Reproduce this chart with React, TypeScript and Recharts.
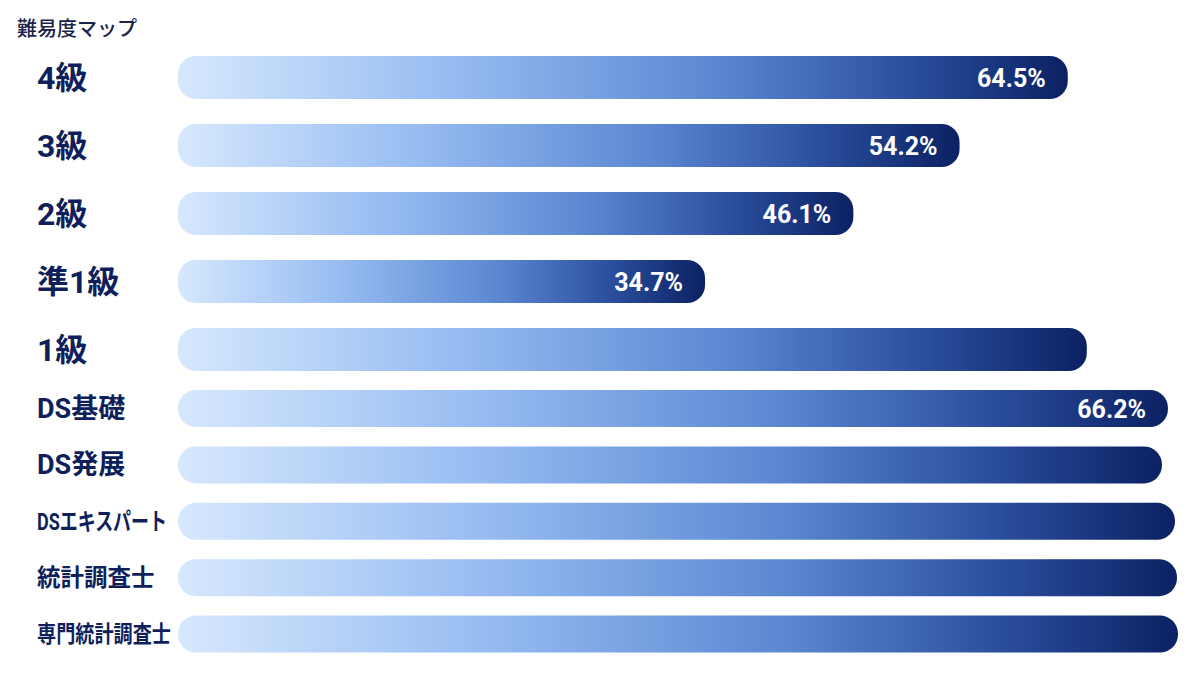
import React from 'react';
import { BarChart, Bar, XAxis, YAxis, LabelList } from 'recharts';

// exam levels, upper block (larger rows) and lower block
const upperLevels = ['4級', '3級', '2級', '準1級', '1級'];
const upperBars = [88.8, 78.0, 67.4, 52.6, 90.7];
const upperRates = ['64.5%', '54.2%', '46.1%', '34.7%', ''];

const lowerLevels = ['DS基礎', 'DS発展', 'DSエキスパート', '統計調査士', '専門統計調査士'];
const lowerBars = [98.8, 98.2, 99.5, 99.7, 99.8];
const lowerRates = ['66.2%', '', '', '', ''];

const NAVY = '#0f1f5c';
const FONT = 'Roboto, "Noto Sans CJK JP", "Noto Sans", sans-serif';

// label sizing, long names are squeezed to fit the left column
const labelSize: Record<string, number> = {
  'DS基礎': 27,
  'DS発展': 27,
  'DSエキスパート': 24,
  '統計調査士': 23.5,
  '専門統計調査士': 23,
};
const labelFit: Record<string, number> = {
  'DSエキスパート': 130,
  '専門統計調査士': 134,
};

const upperData = upperLevels.map((name, i) => ({ name, value: upperBars[i], rate: upperRates[i] }));
const lowerData = lowerLevels.map((name, i) => ({ name, value: lowerBars[i], rate: lowerRates[i] }));

const GradientDefs = ({ id }: { id: string }) => (
  <defs>
    <linearGradient id={id} x1="0" y1="0" x2="1" y2="0">
      <stop offset="0%" stopColor="#d6e8fd" />
      <stop offset="30%" stopColor="#98bdf2" />
      <stop offset="60%" stopColor="#5d89d3" />
      <stop offset="82%" stopColor="#2b4f9e" />
      <stop offset="100%" stopColor="#0b2163" />
    </linearGradient>
  </defs>
);

const makeTick = (fontSize: number) => (props: any) => {
  const { y, payload } = props;
  const label: string = payload.value;
  const fit = labelFit[label];
  return (
    <text
      x={37}
      y={y}
      dy="0.36em"
      fill={NAVY}
      fontFamily={FONT}
      fontWeight={700}
      fontSize={labelSize[label] || fontSize}
      textAnchor="start"
      {...(fit ? { textLength: fit, lengthAdjust: 'spacingAndGlyphs' } : {})}
    >
      {label}
    </text>
  );
};

const renderRate = (props: any) => {
  const { x, y, width, height, value } = props;
  if (!value) return null;
  return (
    <text
      x={x + width - 22}
      y={y + height / 2}
      dy="0.36em"
      textAnchor="end"
      fill="#ffffff"
      fontFamily='Roboto, "Noto Sans", sans-serif'
      fontWeight={700}
      fontSize={25}
    >
      {value}
    </text>
  );
};

const DifficultyBars = ({ data, height, barSize, fontSize, gid }: any) => (
  <BarChart
    width={1200}
    height={height}
    data={data}
    layout="vertical"
    margin={{ top: 0, right: 20, bottom: 0, left: 0 }}
    barCategoryGap={0}
  >
    <GradientDefs id={gid} />
    <XAxis type="number" domain={[0, 100]} hide />
    <YAxis
      type="category"
      dataKey="name"
      width={178}
      axisLine={false}
      tickLine={false}
      interval={0}
      tick={makeTick(fontSize)}
    />
    <Bar
      dataKey="value"
      fill={`url(#${gid})`}
      barSize={barSize}
      radius={[18, 18, 18, 18]}
      isAnimationActive={false}
    >
      <LabelList dataKey="rate" content={renderRate} />
    </Bar>
  </BarChart>
);

export default function App() {
  return (
    <div
      style={{
        position: 'absolute',
        top: 0,
        left: 0,
        width: 1200,
        height: 675,
        background: '#ffffff',
        overflow: 'hidden',
      }}
    >
      <div
        style={{
          position: 'absolute',
          left: 17,
          top: 13,
          fontFamily: '"Noto Sans CJK JP", sans-serif',
          fontSize: 20,
          fontWeight: 500,
          color: '#1b2448',
        }}
      >
        難易度マップ
      </div>
      <div style={{ position: 'absolute', left: 0, top: 43 }}>
        <DifficultyBars data={upperData} height={340} barSize={43} fontSize={32} gid="gradUpper" />
      </div>
      <div style={{ position: 'absolute', left: 0, top: 380 }}>
        <DifficultyBars data={lowerData} height={282} barSize={37} fontSize={22} gid="gradLower" />
      </div>
    </div>
  );
}
